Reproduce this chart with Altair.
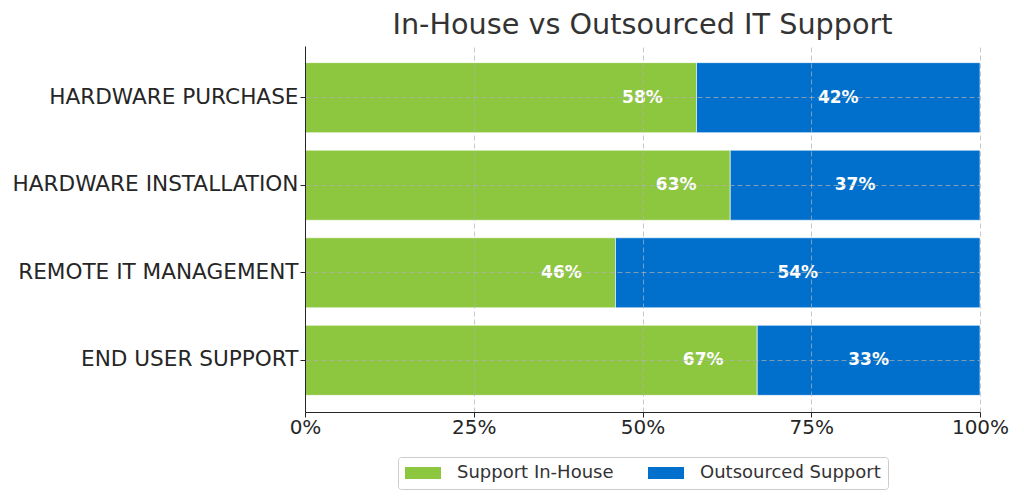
import altair as alt
import pandas as pd

# Support categories, top to bottom
categories = [
    "HARDWARE PURCHASE",
    "HARDWARE INSTALLATION",
    "REMOTE IT MANAGEMENT",
    "END USER SUPPORT",
]
in_house = [58, 63, 46, 67]
outsourced = [42, 37, 54, 33]

series_names = ["Support In-House", "Outsourced Support"]
series_colors = ["#8DC63F", "#0070CC"]
tick_values = [0, 25, 50, 75, 100]

rows = []
for cat, a, b in zip(categories, in_house, outsourced):
    rows.append({"category": cat, "series": series_names[0], "start": 0, "end": a,
                 "value": a, "label": f"{a}%"})
    rows.append({"category": cat, "series": series_names[1], "start": a, "end": a + b,
                 "value": b, "label": f"{b}%"})
df = pd.DataFrame(rows)

font = "DejaVu Sans"

y_enc = alt.Y(
    "category:N",
    sort=categories,
    scale=alt.Scale(paddingInner=0.2, paddingOuter=0.19),
    axis=alt.Axis(
        title=None,
        labelFontSize=21.6,
        labelColor="#262626",
        labelPadding=2,
        labelLimit=400,
        tickSize=5,
        tickColor="#262626",
        domainColor="#262626",
        grid=True,
        gridDash=[5, 3],
        gridColor="#b0b0b0",
        gridOpacity=0.7,
        zindex=1,
    ),
)

x_scale = alt.Scale(domain=[0, 100], nice=False, zero=True)
x_axis = alt.Axis(
    title=None,
    values=tick_values,
    labelExpr="datum.value + '%'",
    labelFontSize=20,
    labelColor="#262626",
    labelPadding=0,
    labelFlush=False,
    tickSize=5,
    tickColor="#262626",
    domainColor="#262626",
    grid=True,
    gridDash=[5, 3],
    gridColor="#b0b0b0",
    gridOpacity=0.7,
    zindex=1,
)

bars = alt.Chart(df).mark_bar(stroke="white", strokeWidth=0.6).encode(
    x=alt.X("start:Q", scale=x_scale, axis=x_axis),
    x2="end:Q",
    y=y_enc,
    color=alt.Color(
        "series:N",
        scale=alt.Scale(domain=series_names, range=series_colors),
        legend=alt.Legend(title=None),
    ),
)

# In-house labels sit right-aligned just inside the end of the green segment
green_labels = alt.Chart(df).transform_filter(
    alt.datum.series == series_names[0]
).transform_calculate(
    lx="datum.end - 5"
).mark_text(
    align="right", baseline="middle", color="white", fontWeight="bold",
    fontSize=17, font=font
).encode(
    x=alt.X("lx:Q", scale=x_scale),
    y=alt.Y("category:N", sort=categories),
    text="label:N",
)

# Outsourced labels are centred in the blue segment
blue_labels = alt.Chart(df).transform_filter(
    alt.datum.series == series_names[1]
).transform_calculate(
    lx="(datum.start + datum.end) / 2"
).mark_text(
    align="center", baseline="middle", color="white", fontWeight="bold",
    fontSize=17, font=font
).encode(
    x=alt.X("lx:Q", scale=x_scale),
    y=alt.Y("category:N", sort=categories),
    text="label:N",
)

chart = alt.layer(bars, green_labels, blue_labels).properties(
    width=675,
    height=366,
    autosize=alt.AutoSizeParams(type="none"),
    padding={"left": 305, "top": 46, "right": 44, "bottom": 91},
    title=alt.TitleParams(
        "In-House vs Outsourced IT Support",
        fontSize=28.7,
        font=font,
        fontWeight="normal",
        color="#333333",
        anchor="middle",
        baseline="alphabetic",
        offset=11,
        dy=28,
    ),
).configure(
    font=font,
    background="white",
).configure_view(
    stroke=None,
).configure_axis(
    labelFont=font,
).configure_legend(
    orient="none",
    legendX=93,
    legendY=411,
    direction="horizontal",
    strokeColor="#cccccc",
    fillColor="white",
    cornerRadius=3,
    padding=7,
    # wide rectangular swatch: 36 x 12 px drawn from a 12 px symbol size
    symbolType="M-3,-1L3,-1L3,1L-3,1Z",
    symbolSize=144,
    symbolOffset=9,
    symbolStrokeWidth=0,
    symbolOpacity=1,
    labelFont=font,
    labelFontSize=18,
    labelColor="#333333",
    labelOffset=25,
    labelLimit=300,
    columnPadding=34,
)

chart.save("out.html", embed_options={"renderer": "svg", "actions": False})
